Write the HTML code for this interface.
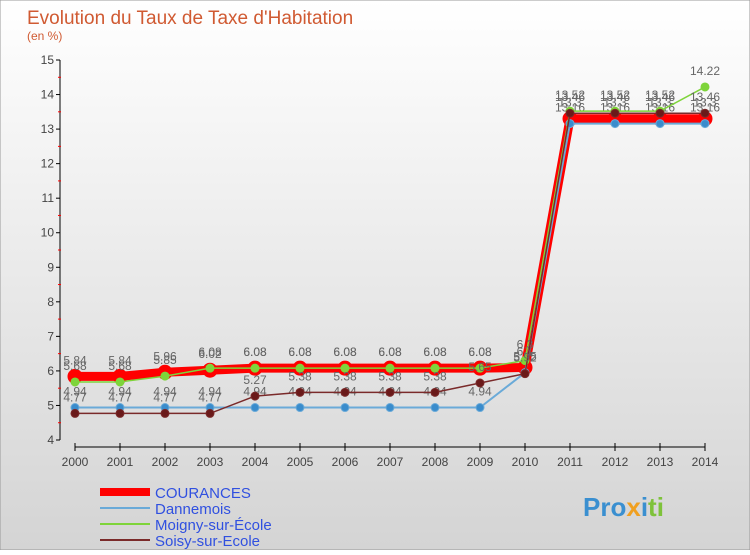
<!DOCTYPE html>
<html><head><meta charset="utf-8"><style>
body{margin:0;width:750px;height:550px;overflow:hidden;font-family:"Liberation Sans",sans-serif}
</style></head><body>
<svg width="750" height="550" xmlns="http://www.w3.org/2000/svg">
<defs><linearGradient id="bg" x1="0" y1="0" x2="0" y2="1"><stop offset="0" stop-color="#ffffff"/><stop offset="1" stop-color="#d4d4d4"/></linearGradient></defs>
<rect width="750" height="550" fill="url(#bg)" stroke="#999"/>
<text x="27" y="24" font-size="19" fill="#d05a32">Evolution du Taux de Taxe d'Habitation</text>
<text x="27" y="40" font-size="12" fill="#d05a32">(en %)</text>
<g id="axes"></g><g id="series"></g>
<g font-size="15">
<line x1="100" y1="492" x2="150" y2="492" stroke="#f00" stroke-width="8"/><text x="155" y="498" fill="#3050e0">COURANCES</text>
<line x1="100" y1="508" x2="150" y2="508" stroke="#6aaad8" stroke-width="2"/><text x="155" y="514" fill="#3050e0">Dannemois</text>
<line x1="100" y1="524" x2="150" y2="524" stroke="#7ed43a" stroke-width="2"/><text x="155" y="530" fill="#3050e0">Moigny-sur-École</text>
<line x1="100" y1="540" x2="150" y2="540" stroke="#7a2a2a" stroke-width="2"/><text x="155" y="546" fill="#3050e0">Soisy-sur-Ecole</text>
</g>
<text x="583" y="516" font-size="26" font-weight="bold"><tspan fill="#3a8fd0">Pro</tspan><tspan fill="#f0a020">x</tspan><tspan fill="#3a8fd0">i</tspan><tspan fill="#7ec23a">ti</tspan></text>
</svg>
<script>
const years=[2000,2001,2002,2003,2004,2005,2006,2007,2008,2009,2010,2011,2012,2013,2014];
const yTicks=[4,5,6,7,8,9,10,11,12,13,14,15];
const courances=[5.84,5.84,5.96,6.02,6.08,6.08,6.08,6.08,6.08,6.08,6.1,13.3,13.3,13.3,13.3];
const dannemois=[4.94,4.94,4.94,4.94,4.94,4.94,4.94,4.94,4.94,4.94,5.95,13.16,13.16,13.16,13.16];
const moigny=[5.68,5.68,5.85,6.08,6.08,6.08,6.08,6.08,6.08,6.08,6.3,13.52,13.52,13.52,14.22];
const soisy=[4.77,4.77,4.77,4.77,5.27,5.38,5.38,5.38,5.38,5.65,5.92,13.46,13.46,13.46,13.46];
const NS="http://www.w3.org/2000/svg";
const X=i=>75+45*i, Y=v=>440-(v-4)*34.545;
function mk(t,a,p){const e=document.createElementNS(NS,t);for(const k in a)e.setAttribute(k,a[k]);p.appendChild(e);return e;}
const ax=document.getElementById('axes');
const yl=mk('line',{x1:60,y1:60,x2:60,y2:440,stroke:'#000'},ax);


const xl=mk('line',{x1:75,y1:447,x2:705,y2:447,stroke:'#000'},ax);


yTicks.forEach(v=>{
 mk('line',{x1:56,y1:Y(v),x2:60,y2:Y(v),stroke:'#000'},ax);
 if(v<15)mk('line',{x1:58,y1:Y(v+0.5),x2:61,y2:Y(v+0.5),stroke:'#f00'},ax);
 const t=mk('text',{x:54,y:Y(v)+4,'font-size':12,'text-anchor':'end',fill:'#444'},ax);t.textContent=v;
 
 
});
years.forEach((y,i)=>{
 mk('line',{x1:X(i),y1:443,x2:X(i),y2:451,stroke:'#000'},ax);
 const t=mk('text',{x:X(i),y:466,'font-size':12,'text-anchor':'middle',fill:'#444'},ax);t.textContent=y;
 
 
});
const sg=document.getElementById('series');
function draw(data,color,w,r,name,dot){
 const g=mk('g',{},sg);
 
 
 mk('polyline',{points:data.map((v,i)=>X(i)+','+Y(v)).join(' '),fill:'none',stroke:color,'stroke-width':w},g);
 data.forEach((v,i)=>{
  const c=mk('circle',{cx:X(i),cy:Y(v),r:r,fill:dot,stroke:color,'stroke-width':1},g);
  
  
  const t=mk('text',{x:X(i),y:Y(v)-12,'font-size':12,'text-anchor':'middle',fill:'#666'},g);t.textContent=v;
 });
}
draw(courances,'#f00',9,7,'courances-series','#f00');
draw(dannemois,'#6aaad8',2,4,'dannemois-series','#3a8ccc');
draw(moigny,'#7ed43a',1.5,4,'moigny-series','#7ed43a');
draw(soisy,'#7a2a2a',1.5,4,'soisy-series','#6a1a1a');
</script>
</body></html>
